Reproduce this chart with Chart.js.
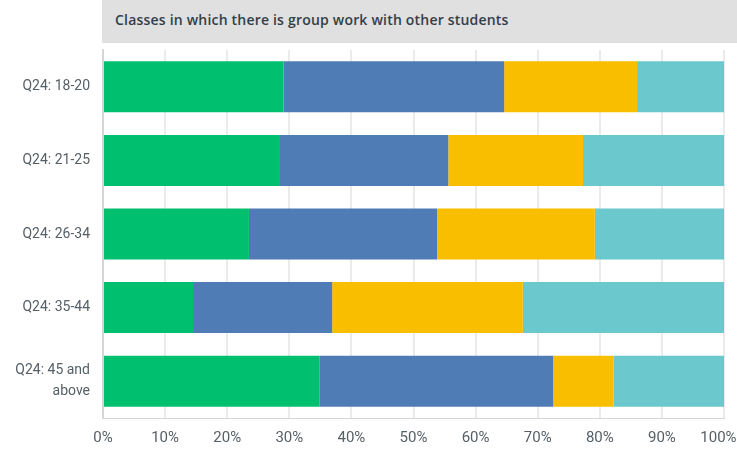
<!DOCTYPE html>
<html>
<head>
<meta charset="utf-8">
<script src="https://cdn.jsdelivr.net/npm/chart.js@4"></script>
<style>
  body { margin: 0; background: #fff; }
  #wrap { position: relative; width: 737px; height: 451px; }
  #title {
    position: absolute; left: 102px; top: 0; width: 635px; height: 43px;
    background: #e0e0e0; color: #333e48;
    font: 600 14px "Open Sans", sans-serif; line-height: 40px;
    letter-spacing: 0.2px;
    padding-left: 13px; box-sizing: border-box;
  }
</style>
</head>
<body>
<div id="wrap">
  <div id="title">Classes in which there is group work with other students</div>
  <canvas id="chart" width="737" height="451"></canvas>
</div>
<script>
var categories = ['Q24: 18-20', 'Q24: 21-25', 'Q24: 26-34', 'Q24: 35-44', ['Q24: 45 and', 'above']];
var series1 = [29.1, 28.5, 23.5, 14.5, 34.9];
var series2 = [35.5, 27.1, 30.3, 22.4, 37.6];
var series3 = [21.4, 21.7, 25.4, 30.7, 9.7];
var series4 = [14.0, 22.7, 20.8, 32.4, 17.8];
var xTicks = [0, 10, 20, 30, 40, 50, 60, 70, 80, 90, 100];

var colors = ['#00bf6f', '#507cb6', '#f9be00', '#6bc8cd'];
var tickColor = '#555f66';

var ctx = document.getElementById('chart');
var chart = new Chart(ctx, {
    type: 'bar',
    data: {
        labels: categories,
        datasets: [series1, series2, series3, series4].map(function (d, i) {
            return {
                label: 'Series ' + (i + 1),
                data: d,
                backgroundColor: colors[i],
                borderWidth: 0,
                barPercentage: 0.693,
                categoryPercentage: 1
            };
        })
    },
    options: {
        indexAxis: 'y',
        responsive: false,
        animation: false,
        layout: { padding: { top: 50, right: 13, bottom: 5, left: 0 } },
        plugins: {
            legend: { display: false },
            tooltip: { enabled: false }
        },
        scales: {
            x: {
                stacked: true,
                min: 0,
                max: 100,
                afterBuildTicks: function (scale) {
                    scale.ticks = xTicks.map(function (v) { return { value: v }; });
                },
                afterFit: function (scale) {
                    scale.paddingLeft = 0;
                    scale.paddingRight = 0;
                    scale.height = 28;
                },
                grid: { color: '#ebebeb', lineWidth: 2, drawTicks: false },
                border: { color: '#d6d6d6', width: 1 },
                ticks: {
                    color: tickColor,
                    padding: 11,
                    font: { family: 'Roboto, sans-serif', size: 15 },
                    callback: function (v) { return v === 100 ? v + '%   ' : v + '%'; }
                }
            },
            y: {
                stacked: true,
                afterFit: function (scale) {
                    scale.width = 103;
                    scale.paddingTop = 0;
                    scale.paddingBottom = 0;
                },
                grid: { display: false, drawTicks: false },
                border: { color: '#d6d6d6', width: 2 },
                ticks: {
                    color: tickColor,
                    padding: 13,
                    font: { family: 'Roboto, sans-serif', size: 14, lineHeight: 1.5 }
                }
            }
        }
    }
});
</script>
</body>
</html>
